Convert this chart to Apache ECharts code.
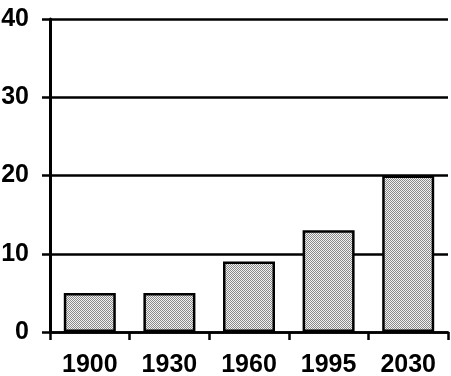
<!DOCTYPE html>
<html><head><meta charset="utf-8">
<script src="https://cdn.jsdelivr.net/npm/echarts@6/dist/echarts.min.js"></script>
<style>html,body{margin:0;padding:0;background:#fff}#c{width:451px;height:376px}</style>
</head><body><div id="c"></div>
<script>
var categories = ['1900', '1930', '1960', '1995', '2030'];
var values = [5, 5, 9, 13, 20];
var yTicks = [0, 10, 20, 30, 40];

var pc = document.createElement('canvas');
pc.width = 2; pc.height = 2;
var px = pc.getContext('2d');
px.fillStyle = '#f2f2f2'; px.fillRect(0, 0, 2, 2);
px.fillStyle = '#8a8a8a'; px.fillRect(0, 0, 1, 1); px.fillRect(1, 1, 1, 1);

var chart = echarts.init(document.getElementById('c'), null, {renderer: 'canvas'});
chart.setOption({
  animation: false,
  grid: {left: 50, right: 3, top: 19, bottom: 44, containLabel: false, outerBoundsMode: 'none'},
  xAxis: {
    type: 'category', data: categories,
    axisLine: {lineStyle: {color: '#000', width: 2.5}},
    axisTick: {show: true, length: 8, lineStyle: {color: '#000', width: 2.5}},
    axisLabel: {color: '#000', fontFamily: 'Liberation Sans, Arial, sans-serif', fontWeight: 'bold', fontSize: 25, margin: 21}
  },
  yAxis: {
    type: 'value', min: yTicks[0], max: yTicks[yTicks.length - 1], interval: 10,
    axisLine: {show: true, lineStyle: {color: '#000', width: 3}},
    axisTick: {show: true, length: 8, lineStyle: {color: '#000', width: 2.5}},
    splitLine: {show: true, lineStyle: {color: '#000', width: 2.5}},
    axisLabel: {color: '#000', fontFamily: 'Liberation Sans, Arial, sans-serif', fontWeight: 'bold', fontSize: 25, margin: 21, verticalAlign: 'middle', padding: [0, 0, 17, 0]}
  },
  series: [{
    type: 'bar', data: values, barWidth: 52,
    itemStyle: {color: {image: pc, repeat: 'repeat'}, borderColor: '#000', borderWidth: 2.5}
  }]
});
</script></body></html>
